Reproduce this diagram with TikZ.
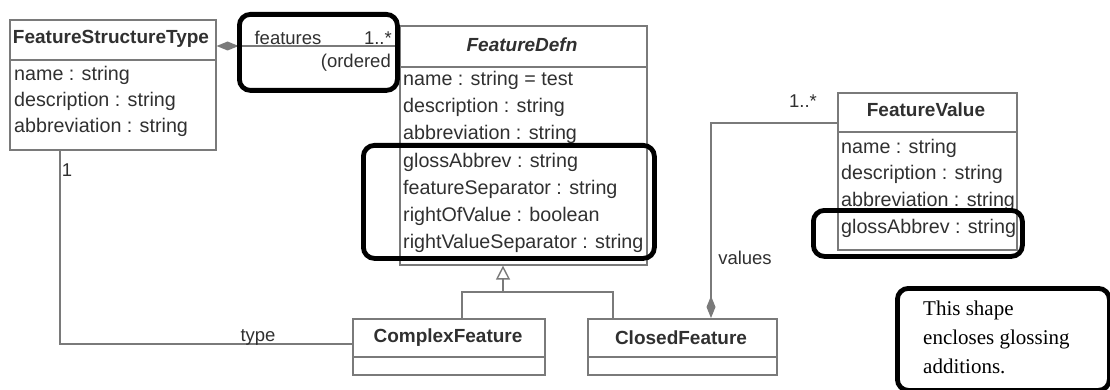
\documentclass[tikz,border=0pt]{standalone}
\usepackage{fontspec}
\setmainfont{Liberation Sans}
\newfontfamily\notefont{Liberation Serif}
\usetikzlibrary{arrows.meta}
\definecolor{umlgrey}{HTML}{7A7A7A}
\definecolor{umltext}{HTML}{303030}
\begin{document}
\begin{tikzpicture}[x=1pt,y=-1pt,
  umlline/.style={draw=umlgrey, line width=1.4pt},
  classbox/.style={draw=umlgrey, line width=1.6pt, rectangle, anchor=north west, inner sep=0pt},
  sepline/.style={draw=umlgrey, line width=1.6pt},
  attr/.style={anchor=west, inner sep=0pt, text=umltext, font=\fontsize{19.7}{19.7}\selectfont},
  cname/.style={inner sep=0pt, text=umltext, font=\fontsize{19}{19}\selectfont\bfseries},
  lbl/.style={inner sep=0pt, text=umltext, font=\fontsize{18.5}{18.5}\selectfont},
  hilite/.style={draw=black, line width=4.8pt, rounded corners=11pt, rectangle, anchor=north west, inner sep=0pt},
  comptip/.tip={Diamond[length=22pt, width=9pt, fill=umlgrey]},
  gentip/.tip={Triangle[open, length=14pt, width=14pt, fill=white]}
]
\useasboundingbox (0,0) rectangle (1110,390);

% ---------- FeatureStructureType ----------
\node[classbox, minimum width=206pt, minimum height=130pt] (fst) at (9,19) {};
\draw[sepline] (9,60) -- (215,60);
\node[cname] (fstname) at (111,39) {FeatureStructureType};
\node[attr] (fsta1) at (14,75) {name : string};
\node[attr] (fsta2) at (14,101) {description : string};
\node[attr] (fsta3) at (14,127) {abbreviation : string};

% ---------- FeatureDefn ----------
\node[classbox, minimum width=247pt, minimum height=239pt] (fd) at (399,25) {};
\draw[sepline] (399,67) -- (646,67);
\node[cname, font=\fontsize{19}{19}\selectfont\bfseries\itshape] (fdname) at (522,45) {FeatureDefn};
\node[attr] (fda1) at (403,80) {name : string = test};
\node[attr] (fda2) at (403,107) {description : string};
\node[attr] (fda3) at (403,134) {abbreviation : string};
\node[attr] (fda4) at (403,162) {glossAbbrev : string};
\node[attr] (fda5) at (403,189) {featureSeparator : string};
\node[attr] (fda6) at (403,216) {rightOfValue : boolean};
\node[attr] (fda7) at (403,243) {rightValueSeparator : string};

% ---------- FeatureValue ----------
\node[classbox, minimum width=179pt, minimum height=157pt] (fv) at (837,92) {};
\draw[sepline] (837,132) -- (1016,132);
\node[cname] (fvname) at (926,110) {FeatureValue};
\node[attr] (fva1) at (841,148) {name : string};
\node[attr] (fva2) at (841,174) {description : string};
\node[attr] (fva3) at (841,201) {abbreviation : string};
\node[attr] (fva4) at (841,228) {glossAbbrev : string};

% ---------- ComplexFeature / ClosedFeature ----------
\node[classbox, minimum width=192pt, minimum height=56pt] (cf) at (352,318) {};
\draw[sepline] (352,357) -- (544,357);
\node[cname] (cfname) at (448,338) {ComplexFeature};
\node[classbox, minimum width=189pt, minimum height=56pt] (clf) at (587,318) {};
\draw[sepline] (587,357) -- (776,357);
\node[cname] (clfname) at (681,338) {ClosedFeature};

% ---------- helper coordinates ----------
\coordinate (ycomp) at (0,46);
\coordinate (gj) at (503,292);
\coordinate (gl) at (462,292);
\coordinate (gr) at (613,292);
\coordinate (tx) at (60,344);
\coordinate (vx) at (711,123);

% ---------- connectors ----------
\draw[umlline, comptip-] (fst.east |- ycomp) -- (fd.west |- ycomp);
\draw[umlline, -gentip] (gj) -- (fd.south -| gj);
\draw[umlline] (cf.north -| gl) -- (gl) -- (gr) -- (clf.north -| gr);
\draw[umlline] (fst.south -| tx) |- (cf.west |- tx);
\draw[umlline, comptip-] (clf.north -| vx) |- (fv.west |- vx);

% ---------- labels ----------
\node[lbl] (lfeat) at (288,38) {features};
\node[lbl, anchor=east] (lmult1) at (392,38) {1..*};
\node[lbl, anchor=east] (lord) at (391,63) {(ordered};
\node[lbl] (lone) at (67,170) {1};
\node[lbl] (ltype) at (258,337) {type};
\node[lbl] (lmult2) at (803,101) {1..*};
\node[lbl] (lval) at (745,258) {values};

% ---------- highlights ----------
\node[hilite, minimum width=158pt, minimum height=76pt] (h1) at (237,12) {};
\node[hilite, minimum width=291pt, minimum height=113pt] (h2) at (361,143) {};
\node[hilite, minimum width=209pt, minimum height=46pt] (h3) at (811,208) {};
\node[hilite, minimum width=212pt, minimum height=102pt] (note) at (895,286) {};
\node[anchor=west, align=left, inner sep=0pt, text=black,
      font=\notefont\fontsize{21}{29}\selectfont] (notetext) at (923,337)
      {This shape\\encloses glossing\\additions.};
\end{tikzpicture}
\end{document}
